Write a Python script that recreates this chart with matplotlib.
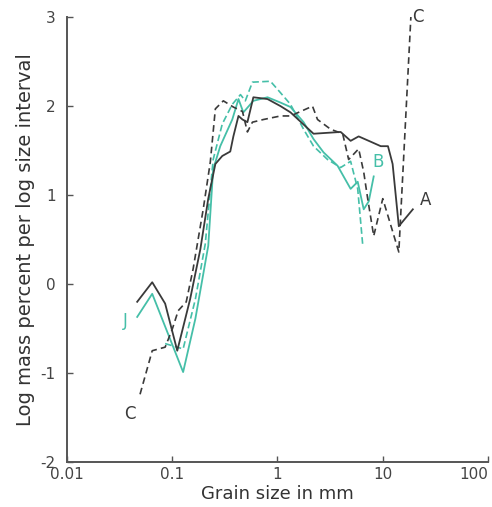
import matplotlib.pyplot as plt

plt.rcParams['axes.unicode_minus'] = False
plt.rcParams['font.family'] = ['DejaVu Sans']

# grain size (mm) and log mass percent per log size interval
size_a = [0.0465, 0.0646, 0.0857, 0.1117, 0.148, 0.185, 0.220, 0.257, 0.299,
          0.356, 0.381, 0.426, 0.465, 0.518, 0.590, 0.804, 1.07, 1.33, 2.20,
          3.98, 4.95, 5.90, 7.69, 9.57, 11.2, 12.4, 14.2, 19.3]
logm_a = [-0.20, 0.02, -0.22, -0.75, -0.17, 0.39, 0.96, 1.35, 1.44,
          1.49, 1.66, 1.89, 1.85, 1.82, 2.10, 2.08, 2.00, 1.93, 1.69,
          1.71, 1.61, 1.66, 1.60, 1.55, 1.55, 1.35, 0.65, 0.84]

size_c = [0.0495, 0.0646, 0.0857, 0.100, 0.114, 0.136, 0.158, 0.197, 0.230,
          0.257, 0.306, 0.381, 0.465, 0.518, 0.578, 0.736, 1.07, 1.33, 2.15,
          2.40, 3.20, 4.16, 4.74, 5.90, 6.59, 7.19, 8.20, 10.0, 14.2, 18.5]
logm_c = [-1.24, -0.75, -0.71, -0.51, -0.30, -0.20, 0.17, 0.84, 1.37,
          1.97, 2.06, 1.99, 1.94, 1.71, 1.82, 1.85, 1.89, 1.89, 2.00,
          1.85, 1.74, 1.69, 1.40, 1.52, 1.26, 0.96, 0.54, 0.96, 0.36, 3.01]

size_b = [0.0465, 0.0646, 0.127, 0.166, 0.220, 0.245, 0.286, 0.372, 0.426,
          0.474, 0.590, 0.804, 1.07, 1.33, 1.77, 2.20, 2.74, 3.72, 4.95,
          5.78, 6.59, 7.36, 8.20]
logm_b = [-0.37, -0.11, -0.99, -0.39, 0.43, 1.29, 1.55, 1.85, 2.08,
          1.93, 2.06, 2.10, 2.04, 1.99, 1.82, 1.63, 1.48, 1.33, 1.07,
          1.15, 0.84, 0.93, 1.21]

size_b2 = [0.0857, 0.127, 0.166, 0.206, 0.245, 0.299, 0.372, 0.445, 0.495,
           0.578, 0.857, 1.00, 1.33, 1.77, 2.20, 2.99, 3.98, 4.95, 5.78, 6.46]
logm_b2 = [-0.67, -0.73, -0.17, 0.45, 1.40, 1.80, 2.02, 2.13, 2.06,
           2.27, 2.28, 2.19, 2.02, 1.74, 1.55, 1.40, 1.31, 1.38, 1.07, 0.43]

xticks = [0.01, 0.1, 1, 10, 100]
xtick_labels = ['0.01', '0.1', '1', '10', '100']
yticks = [-2, -1, 0, 1, 2, 3]

dark = '#3a3a3a'
teal = '#45bfa8'

fig = plt.figure(figsize=(4.92, 5.07), dpi=100)
ax = fig.add_axes([0.136, 0.089, 0.856, 0.877])

ax.plot(size_b2, logm_b2, color=teal, lw=1.2, ls=(0, (4, 2)))
ax.plot(size_b, logm_b, color=teal, lw=1.3)
ax.plot(size_c, logm_c, color=dark, lw=1.2, ls=(0, (4, 2.5)))
ax.plot(size_a, logm_a, color=dark, lw=1.3)

# curve labels
ax.text(0.0398, -1.46, 'C', color=dark, fontsize=12, ha='center', va='center')
ax.text(21.5, 3.0, 'C', color=dark, fontsize=12, ha='center', va='center')
ax.text(25.7, 0.95, 'A', color=dark, fontsize=12, ha='center', va='center')
ax.text(9.0, 1.37, 'B', color=teal, fontsize=12, ha='center', va='center')
ax.text(0.0356, -0.42, 'J', color=teal, fontsize=12, ha='center', va='center')

ax.set_xscale('log')
ax.set_xlim(0.01, 100)
ax.set_ylim(-2, 3)
ax.set_xticks(xticks)
ax.set_xticklabels(xtick_labels)
ax.minorticks_off()
ax.set_yticks(yticks)
ax.get_xticklabels()[-1].set_ha('right')

for side in ['top', 'right']:
    ax.spines[side].set_visible(False)
for side in ['left', 'bottom']:
    ax.spines[side].set_color('#555555')
    ax.spines[side].set_linewidth(1.4)

ax.tick_params(axis='both', direction='in', length=4, width=1,
               color='#555555', labelcolor='#444444', labelsize=11)
ax.tick_params(axis='x', pad=4)
ax.tick_params(axis='y', pad=8)

ax.set_xlabel('Grain size in mm', fontsize=13, color='#333333', labelpad=2)
ax.set_ylabel('Log mass percent per log size interval', fontsize=14,
              color='#333333', labelpad=4)

fig.savefig('out.png', dpi=100)
